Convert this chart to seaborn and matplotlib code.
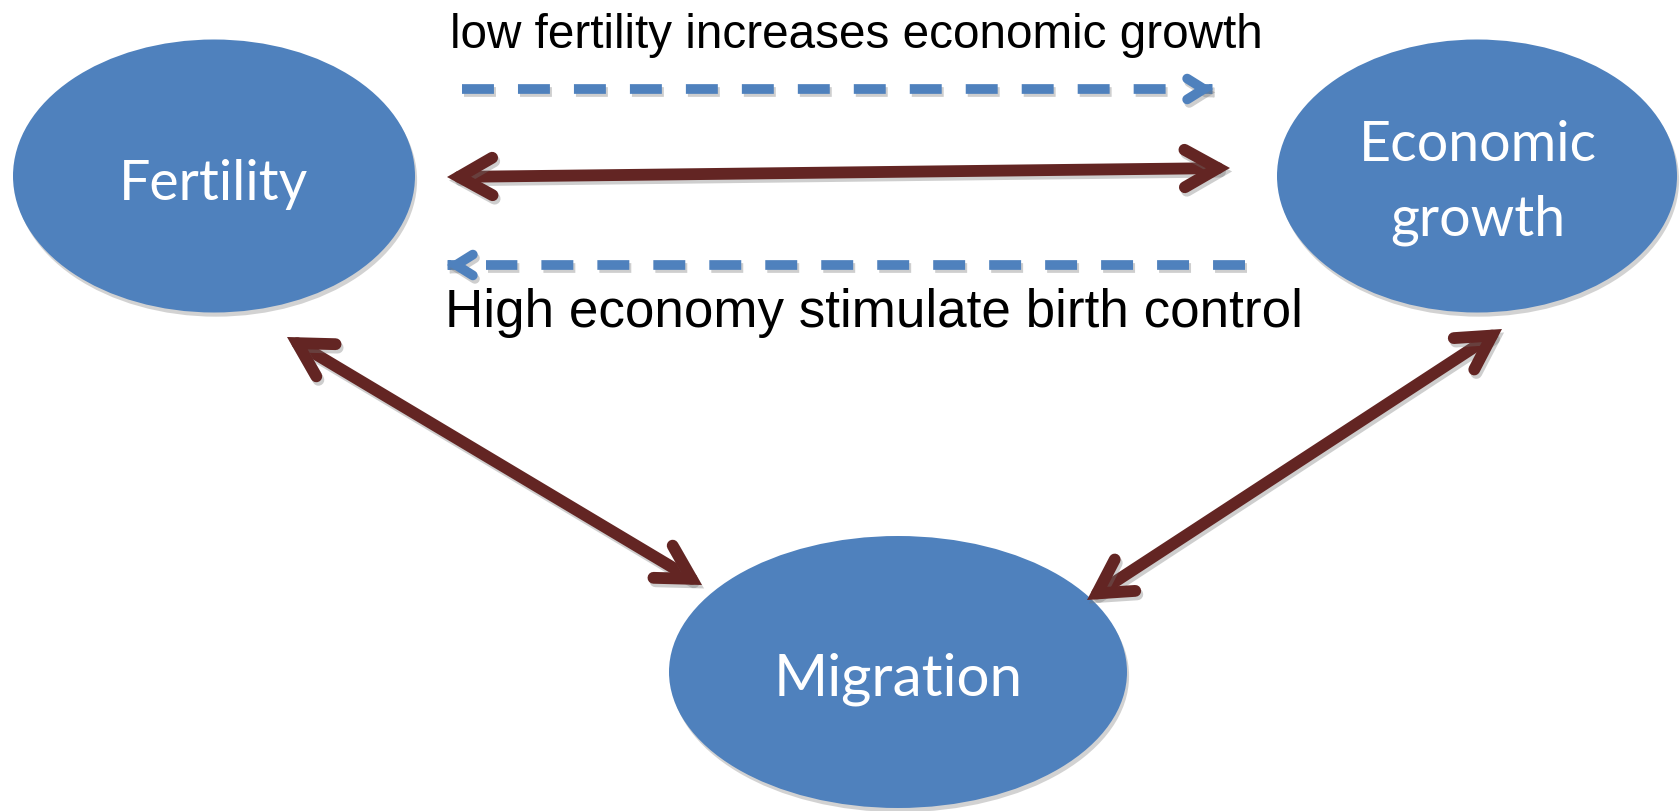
import matplotlib
matplotlib.use("Agg")
import matplotlib.pyplot as plt
import matplotlib.patheffects as pe
from matplotlib.patches import Ellipse, FancyArrowPatch, ArrowStyle
import seaborn as sns

# === Diagram data (pixel units, origin at top-left) ===
node_names = ["Fertility", "Economic\ngrowth", "Migration"]
node_x = [214, 1477, 898]
node_y = [176, 176, 672]
node_w = [402, 400, 458]
node_h = [273, 273, 272]
label_x = [214, 1478, 898]
label_y = [200, 235, 696]  # baseline of the last line
label_size = [40, 40, 42]

# two-way links between the nodes (tip at each end)
link_a = [(447, 177), (287, 337), (1087, 600)]
link_b = [(1230, 168), (702, 585), (1502, 329)]

# one-way dashed links: dashed span and arrow tip
dash_y = [89, 265]
dash_from = [462, 1245]
dash_to = [1166, 486]
dash_tip = [1213, 447]

captions = ["low fertility increases economic growth",
            "High economy stimulate birth control"]
caption_x = [450, 445]
caption_y = [48, 327]
caption_size = [34.3, 38.2]

# === Style ===
sns.set_style("white")
blue = "#4F81BD"
red = "#632523"
W, H = 1680, 811

fig = plt.figure(figsize=(W / 100, H / 100), dpi=100)
ax = fig.add_axes([0, 0, 1, 1])
ax.set_xlim(0, W)
ax.set_ylim(H, 0)
ax.axis("off")

line_shadow = [pe.SimpleLineShadow(offset=(1.5, -2.5), shadow_color="0.45", alpha=0.35),
               pe.Normal()]

# nodes
for name, x, y, w, h, lx, ly, fs in zip(node_names, node_x, node_y, node_w, node_h,
                                        label_x, label_y, label_size):
    ell = Ellipse((x, y), w, h, facecolor=blue, edgecolor="none", zorder=2)
    ell.set_path_effects([pe.SimplePatchShadow(offset=(1.5, -3), shadow_rgbFace="0.5",
                                               alpha=0.35), pe.Normal()])
    ax.add_patch(ell)
    ax.text(lx, ly, name, color="white", fontsize=fs, ha="center", va="baseline",
            family=["Lato", "DejaVu Sans"], linespacing=1.55, zorder=3)

# two-way solid links
for a, b in zip(link_a, link_b):
    arr = FancyArrowPatch(a, b, arrowstyle=ArrowStyle("<->", head_length=24, head_width=13.5),
                          mutation_scale=1, lw=8.5, color=red, joinstyle="miter",
                          capstyle="round", shrinkA=0, shrinkB=0, zorder=4)
    arr.set_path_effects(line_shadow)
    ax.add_patch(arr)

# one-way dashed links
dash_lw = 7
for y, x0, x1, tip in zip(dash_y, dash_from, dash_to, dash_tip):
    ax.plot([x0, x1], [y, y], color=blue, lw=dash_lw, solid_capstyle="butt",
            dash_capstyle="butt", dashes=(23 / dash_lw, 17.3 / dash_lw),
            path_effects=line_shadow, zorder=4)
    step = 1 if tip > x0 else -1
    head = FancyArrowPatch((tip - step, y), (tip, y),
                           arrowstyle=ArrowStyle("->", head_length=12, head_width=7.5),
                           mutation_scale=1, lw=dash_lw, color=blue, joinstyle="miter",
                           capstyle="round", shrinkA=0, shrinkB=0, zorder=4)
    head.set_path_effects(line_shadow)
    ax.add_patch(head)

# captions
for txt, x, y, s in zip(captions, caption_x, caption_y, caption_size):
    ax.text(x, y, txt, fontsize=s, color="black", ha="left", va="baseline",
            family=["Liberation Sans", "DejaVu Sans"], zorder=5)

fig.savefig("out.png", dpi=100, facecolor="white")
